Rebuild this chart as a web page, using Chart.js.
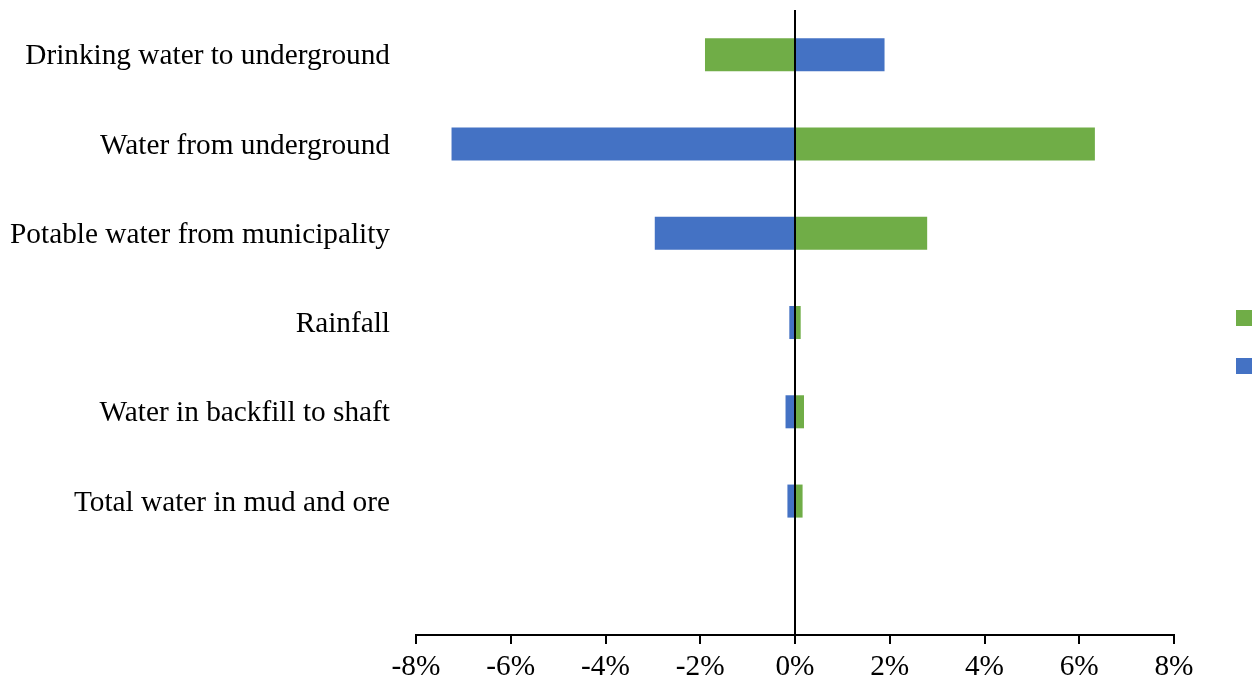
<!DOCTYPE html>
<html>
<head>
<meta charset="utf-8">
<script src="https://cdn.jsdelivr.net/npm/chart.js@4/dist/chart.umd.min.js"></script>
<style>
  html, body { margin: 0; padding: 0; background: #ffffff; }
  #wrap { width: 1257px; height: 684px; }
</style>
</head>
<body>
<div id="wrap"><canvas id="chart" width="1257" height="684"></canvas></div>
<script>
// Water-balance sensitivity: change (%) per input, two opposite scenarios
const categories = [
  'Drinking water to underground',
  'Water from underground',
  'Potable water from municipality',
  'Rainfall',
  'Water in backfill to shaft',
  'Total water in mud and ore',
  ''
];
const greenSeries = [-1.90, 6.33, 2.79, 0.12, 0.19, 0.16, null];
const blueSeries  = [1.89, -7.25, -2.96, -0.12, -0.20, -0.16, null];
const xTicks = [-8, -6, -4, -2, 0, 2, 4, 6, 8];

const GREEN = '#70AD47';
const BLUE = '#4472C4';
const FONT = '"Liberation Serif", "Times New Roman", serif';

// Key squares on the right, one per dataset, stacked vertically around the middle
const keySquares = {
  id: 'keySquares',
  afterDraw(chart) {
    const ctx = chart.ctx;
    const size = 16, gap = 48;
    const sets = chart.data.datasets;
    const x = chart.chartArea.right + 62;
    const mid = chart.height / 2;
    const first = mid - (gap * (sets.length - 1)) / 2;
    ctx.save();
    sets.forEach((ds, i) => {
      ctx.fillStyle = ds.backgroundColor;
      ctx.fillRect(x, first + i * gap - size / 2, size, size);
    });
    ctx.restore();
  }
};

new Chart(document.getElementById('chart'), {
  type: 'bar',
  data: {
    labels: categories,
    datasets: [
      { label: '', data: greenSeries, backgroundColor: GREEN, borderWidth: 0 },
      { label: '', data: blueSeries, backgroundColor: BLUE, borderWidth: 0 }
    ]
  },
  options: {
    indexAxis: 'y',
    responsive: false,
    animation: false,
    devicePixelRatio: 1,
    categoryPercentage: 1,
    barPercentage: 0.37,
    layout: { padding: { top: 10, right: 83, bottom: 0, left: 0 } },
    plugins: { legend: { display: false }, tooltip: { enabled: false } },
    scales: {
      x: {
        min: -8, max: 8,
        z: 1,
        afterBuildTicks(scale) { scale.ticks = xTicks.map(v => ({ value: v })); },
        afterFit(scale) { scale.height = 49; },
        grid: {
          drawOnChartArea: true,
          drawTicks: true,
          tickLength: 9,
          tickWidth: 2,
          tickColor: '#000000',
          lineWidth: 2,
          color: c => (c.tick && c.tick.value === 0 ? '#000000' : 'rgba(0,0,0,0)')
        },
        border: { display: true, color: '#000000', width: 2 },
        ticks: {
          color: '#000000',
          padding: 6,
          font: { family: FONT, size: 29.3 },
          maxRotation: 0,
          callback: v => v + '%'
        }
      },
      y: {
        stacked: true,
        afterFit(scale) {
          scale.width = 416;
          scale.paddingTop = 0;
          scale.paddingBottom = 0;
        },
        grid: { display: false, drawTicks: false },
        border: { display: false },
        ticks: {
          color: '#000000',
          padding: 26,
          labelOffset: 2,
          font: { family: FONT, size: 29.3 }
        }
      }
    }
  },
  plugins: [keySquares]
});
</script>
</body>
</html>
